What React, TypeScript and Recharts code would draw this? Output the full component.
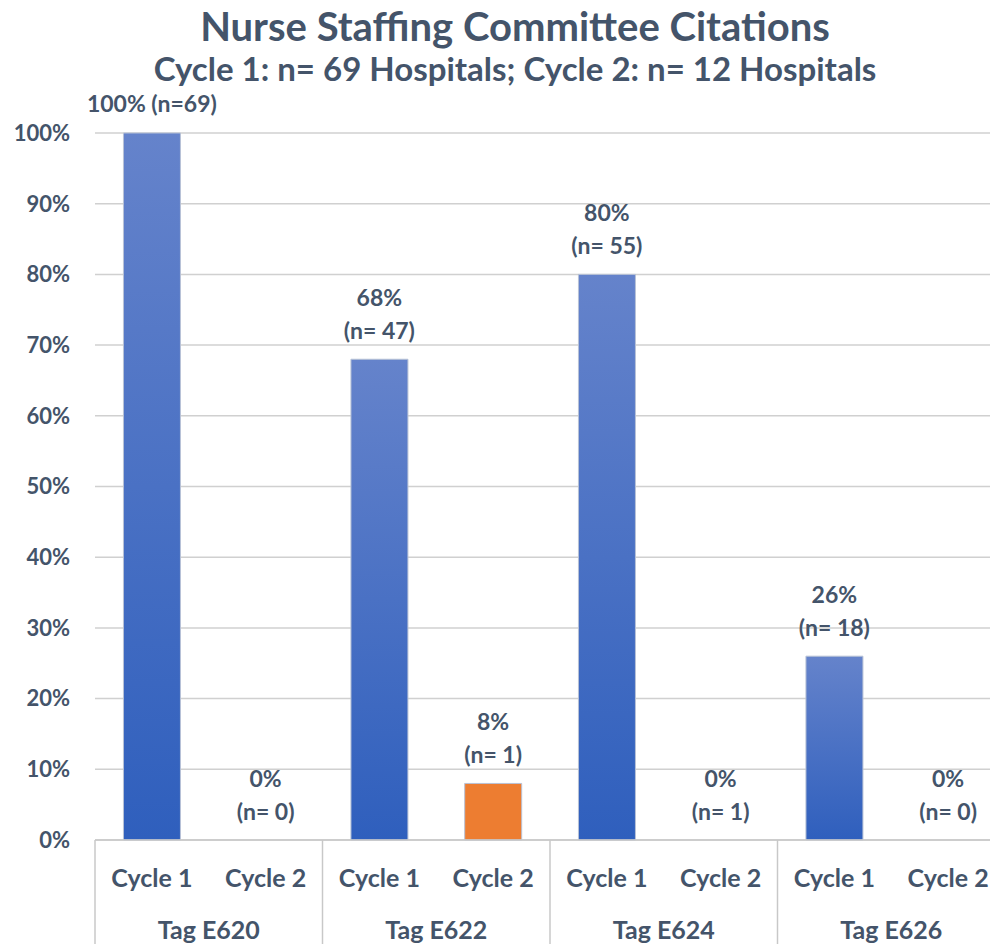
import { Bar, CartesianGrid, Cell, ComposedChart, LabelList, Line, XAxis, YAxis } from "recharts"

const cycles = ["Cycle 1", "Cycle 2", "Cycle 1", "Cycle 2", "Cycle 1", "Cycle 2", "Cycle 1", "Cycle 2"]
const tags = ["Tag E620", "Tag E620", "Tag E622", "Tag E622", "Tag E624", "Tag E624", "Tag E626", "Tag E626"]
const percents = [100, 0, 68, 8, 80, 0, 26, 0]
const counts = [69, 0, 47, 1, 55, 1, 18, 0]
const yTicks = [0, 10, 20, 30, 40, 50, 60, 70, 80, 90, 100]

const TEXT = "#44546a"
const FONT = "Lato, 'Open Sans', sans-serif"

const data = cycles.map((cycle, i) => ({
  key: `${tags[i]}|${cycle}`,
  cycle,
  tag: tags[i],
  pct: percents[i],
  n: counts[i],
}))

function CategoryTick(props: any) {
  const { x, y, payload, index } = props
  const half = payload.offset ?? 57
  const row = data[index]
  const isSecond = row.cycle === "Cycle 2"
  return (
    <g>
      <text
        x={x}
        y={y + 47}
        textAnchor="middle"
        fill={TEXT}
        fontFamily={FONT}
        fontWeight={700}
        fontSize={25}
      >
        {row.cycle}
      </text>
      {isSecond && (
        <text
          x={x - half}
          y={y + 99}
          textAnchor="middle"
          fill={TEXT}
          fontFamily={FONT}
          fontWeight={700}
          fontSize={25}
        >
          {row.tag}
        </text>
      )}
      {index === 0 && (
        <line x1={x - half} x2={x - half} y1={y} y2={y + 110} stroke="#c8c8c8" strokeWidth={1.5} />
      )}
      {isSecond && (
        <line x1={x + half} x2={x + half} y1={y} y2={y + 110} stroke="#c8c8c8" strokeWidth={1.5} />
      )}
    </g>
  )
}

// labels sit on an invisible line so the 0% points get one too
function PointLabel(props: any) {
  const { x, y, index } = props
  const row = data[index]
  if (row.pct === 100) {
    return (
      <text x={x} y={y - 21} textAnchor="middle" fill={TEXT} fontFamily={FONT} fontWeight={700} fontSize={23}>
        {`${row.pct}% (n=${row.n})`}
      </text>
    )
  }
  return (
    <g fill={TEXT} fontFamily={FONT} fontWeight={700} fontSize={23}>
      <text x={x} y={y - 53} textAnchor="middle">{`${row.pct}%`}</text>
      <text x={x} y={y - 20} textAnchor="middle">{`(n= ${row.n})`}</text>
    </g>
  )
}

export default function App() {
  return (
    <div
      style={{
        position: "absolute",
        left: 0,
        top: 0,
        width: 990,
        height: 944,
        overflow: "hidden",
        background: "#fff",
      }}
    >
      <div
        style={{
          position: "absolute",
          top: 2,
          width: 1030,
          textAlign: "center",
          color: TEXT,
          fontFamily: FONT,
          fontWeight: 700,
          fontSize: 40,
          lineHeight: "48px",
        }}
      >
        Nurse Staffing Committee Citations
      </div>
      <div
        style={{
          position: "absolute",
          top: 48,
          width: 1030,
          textAlign: "center",
          color: TEXT,
          fontFamily: FONT,
          fontWeight: 700,
          fontSize: 33,
          lineHeight: "40px",
        }}
      >
        Cycle 1: n= 69 Hospitals; Cycle 2: n= 12 Hospitals
      </div>
      <ComposedChart
        width={1005}
        height={944}
        data={data}
        margin={{ top: 133, right: 0, left: 0, bottom: 0 }}
        barCategoryGap="25%"
        style={{ position: "absolute", left: 0, top: 0 }}
      >
        <defs>
          <linearGradient id="blueGrad" x1="0" y1="0" x2="0" y2="1">
            <stop offset="0%" stopColor="#6583cb" />
            <stop offset="100%" stopColor="#2f5fbd" />
          </linearGradient>
        </defs>
        <CartesianGrid vertical={false} stroke="#d0d0d0" strokeWidth={1.5} />
        <XAxis
          dataKey="key"
          height={104}
          interval={0}
          tickLine={false}
          tickSize={0}
          tickMargin={0}
          axisLine={{ stroke: "#c8c8c8", strokeWidth: 1.5 }}
          tick={<CategoryTick />}
        />
        <YAxis
          width={95}
          domain={[0, 100]}
          ticks={yTicks}
          interval={0}
          tickLine={false}
          axisLine={false}
          tickSize={0}
          tickMargin={25}
          tickFormatter={(v) => `${v}%`}
          tick={{ fill: TEXT, fontFamily: FONT, fontWeight: 700, fontSize: 22 }}
        />
        <Bar dataKey="pct" isAnimationActive={false} stroke="#b8c2d6" strokeWidth={1}>
          {data.map((row, i) => (
            <Cell key={row.key} fill={i === 3 ? "#ed7d31" : "url(#blueGrad)"} />
          ))}
        </Bar>
        <Line
          dataKey="pct"
          stroke="none"
          dot={false}
          activeDot={false}
          legendType="none"
          isAnimationActive={false}
        >
          <LabelList dataKey="pct" content={<PointLabel />} />
        </Line>
      </ComposedChart>
    </div>
  )
}
